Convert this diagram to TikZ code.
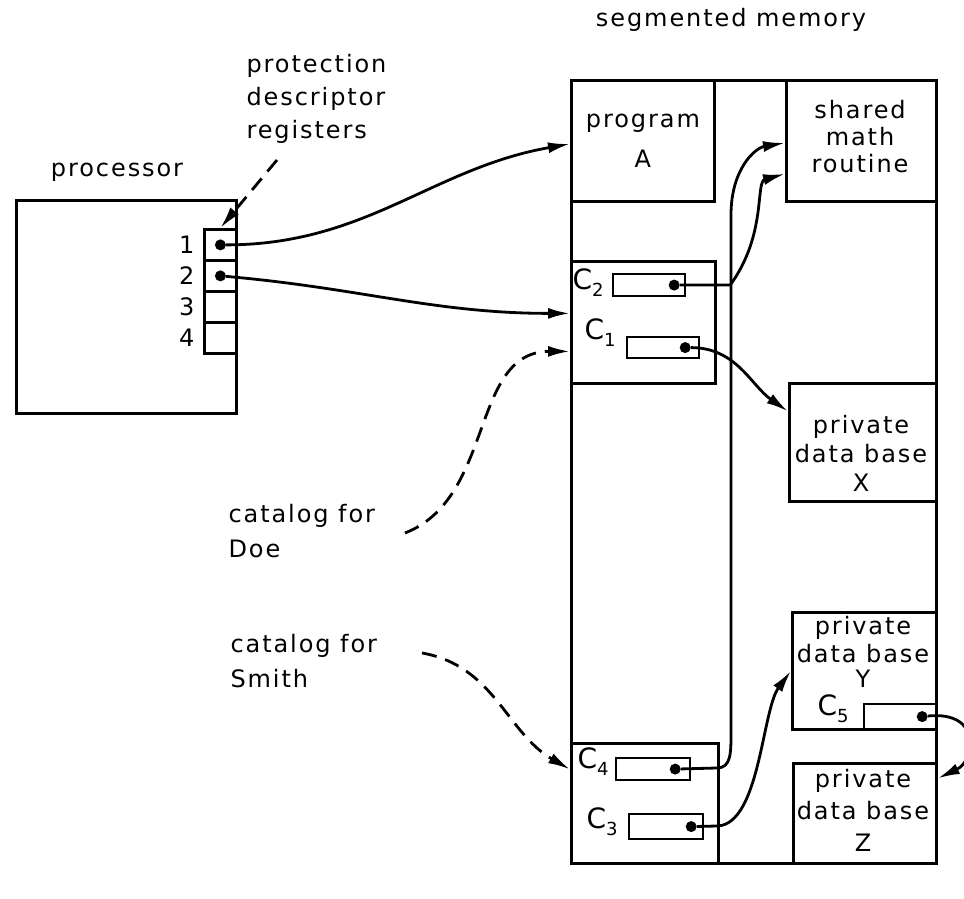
\documentclass[tikz,border=0pt]{standalone}
\usepackage{fontspec}
\setmainfont[LetterSpace=8]{DejaVu Sans}
\usetikzlibrary{arrows.meta,positioning}

\newcommand{\cname}[1]{{\fontsize{28}{28}\selectfont C}\raisebox{-7pt}{\fontsize{18}{18}\selectfont #1}}

\tikzset{
  every node/.style={font=\fontsize{24}{28}\selectfont, align=center},
  seg/.style={draw, line width=2.8pt, inner sep=0pt, anchor=north west},
  slot/.style={draw, line width=2.2pt, inner sep=0pt, anchor=north west},
  dot/.style={circle, fill, inner sep=0pt, minimum size=11pt},
  ptr/.style={line width=2.8pt, -{Latex[length=22pt,width=11pt]}},
  dashptr/.style={ptr, dash pattern=on 15pt off 9pt}
}

\begin{document}
\begin{tikzpicture}[x=1pt, y=1pt]
  \useasboundingbox (0,0) rectangle (964,899);
  % Processor and its registers
  \node[seg, minimum width=220pt, minimum height=213pt] (proc) at (15,700) {};
  \node (proclbl) at (117,727) {processor};
  \foreach \i in {1,...,4}
    \node[seg, minimum width=32pt, minimum height=31pt] (reg\i) at (203,{702-31*\i}) {};
  \foreach \i in {1,...,4}
    \node[left=5pt of reg\i] (num\i) {\i};
  \node[dot] (p1) at (reg1.center) {};
  \node[dot] (p2) at (reg2.center) {};
  \node[anchor=west, align=left, font=\fontsize{24}{33}\selectfont] (protlbl) at (243,800) {protection\\descriptor\\registers};
  \coordinate (prottail) at (277,739);
  \draw[dashptr] (prottail) -- (reg1.north);

  % Segmented memory
  \node (memlbl) at (731,879) {segmented memory};
  \node[seg, minimum width=365pt, minimum height=783pt] (mem) at (570,820) {};
  \node[seg, minimum width=143pt, minimum height=121pt] (prog) at (570,820) {};
  \node (progtxt) at (prog.center) {program\\[12pt]A};
  \node[seg, minimum width=150pt, minimum height=121pt] (math) at (785,820) {};
  \node[font=\fontsize{24}{27}\selectfont] (mathtxt) at (860,762) {shared\\math\\routine};
  \node[seg, minimum width=147pt, minimum height=118pt] (dbx) at (788,517) {};
  \node[font=\fontsize{24}{29}\selectfont] (dbxtxt) at (861,446) {private\\data base\\X};
  \node[seg, minimum width=144pt, minimum height=117pt] (dby) at (791,288) {};
  \node[font=\fontsize{24}{28}\selectfont] (dbytxt) at (863,247) {private\\data base\\[-3pt]Y};
  \node[slot, minimum width=72pt, minimum height=25pt] (c5) at (863,196) {};
  \node (c5lbl) at (833,190) {\cname{5}};
  \node[seg, minimum width=143pt, minimum height=100pt] (dbz) at (792,137) {};
  \node[font=\fontsize{24}{32}\selectfont] (dbztxt) at (863,89) {private\\data base\\Z};

  % Catalogs
  \node[seg, minimum width=144pt, minimum height=122pt] (doe) at (570,639) {};
  \node[slot, minimum width=72pt, minimum height=22pt] (c2) at (612,626) {};
  \node (c2lbl) at (588,616) {\cname{2}};
  \node[slot, minimum width=72pt, minimum height=21pt] (c1) at (626,563) {};
  \node (c1lbl) at (600,566) {\cname{1}};
  \node[seg, minimum width=147pt, minimum height=120pt] (smith) at (570,157) {};
  \node[slot, minimum width=74pt, minimum height=22pt] (c4) at (615,142) {};
  \node (c4lbl) at (593,137) {\cname{4}};
  \node[slot, minimum width=74pt, minimum height=25pt] (c3) at (628,86) {};
  \node (c3lbl) at (602,77) {\cname{3}};
  \node[dot] (d2) at ([xshift=-12pt]c2.east) {};
  \node[dot] (d1) at ([xshift=-15pt]c1.east) {};
  \node[dot] (d4) at ([xshift=-16pt]c4.east) {};
  \node[dot] (d3) at ([xshift=-13pt]c3.east) {};
  \node[dot] (d5) at ([xshift=-15pt]c5.east) {};

  % Catalog labels
  \node[anchor=west, align=left, font=\fontsize{24}{35}\selectfont] (doelbl) at (225,368) {catalog for\\Doe};
  \node[anchor=west, align=left, font=\fontsize{24}{35}\selectfont] (smithlbl) at (227,238) {catalog for\\Smith};
  \coordinate (doetail) at (405,366);
  \coordinate (smithtail) at (422,246);
  \draw[dashptr] (doetail) .. controls +(90,35) and +(-100,0) .. ([yshift=-29pt]doe.west);
  \draw[dashptr] (smithtail) to[out=-10,in=150] ([yshift=34pt]smith.west);

  % Registers to segments
  \draw[ptr] (p1) to[out=0,in=190] ([yshift=-3pt]prog.west);
  \draw[ptr] (p2) to[out=-5,in=180] ([yshift=9pt]doe.west);

  % Capabilities to segments
  \draw[ptr] (d2) -- ++(56,0) .. controls +(37,51) and +(-30,-8) .. ([yshift=-33pt]math.west);
  \coordinate (c4low) at (731,166);
  \coordinate (c4top) at (731,684);
  \draw[ptr] (d4) -- (717,131) .. controls +(14,0) and +(0,-20) .. (c4low) -- (c4top)
    .. controls +(0,46) and +(-30,-5) .. ([yshift=-2pt]math.west);
  \draw[ptr] (d1) to[out=0,in=145] ([yshift=31pt]dbx.west);
  \draw[ptr] (d3) -- (718,73) .. controls +(42,3) and +(-29,-39) .. (dby.west);
  \draw[ptr] (d5) .. controls +(60,6) and +(38,18) .. ([yshift=35pt]dbz.east);
\end{tikzpicture}
\end{document}
